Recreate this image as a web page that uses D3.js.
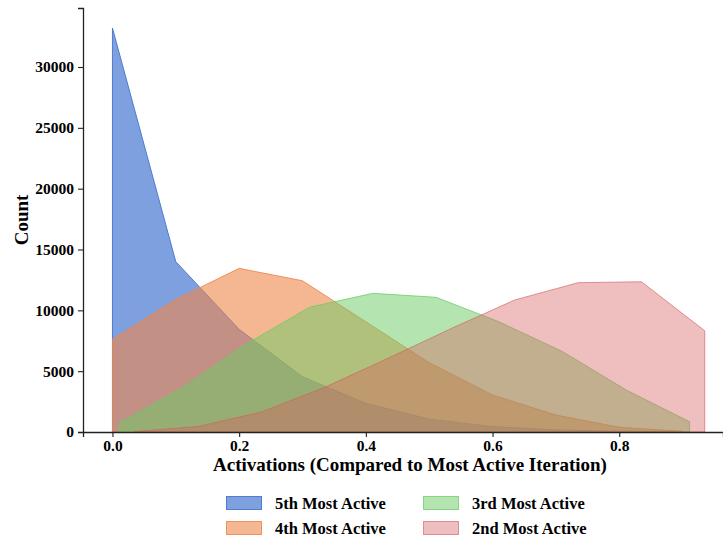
<!DOCTYPE html>
<html>
<head>
<meta charset="utf-8">
<script src="https://cdn.jsdelivr.net/npm/d3@7"></script>
<style>
  html, body { margin: 0; padding: 0; background: #fff; }
  svg { display: block; font-family: "Liberation Serif", "Times New Roman", serif; font-weight: bold; }
</style>
</head>
<body>
<svg id="chart" width="723" height="539"></svg>
<script>
// ---- data ----
const seriesNames = ["5th Most Active", "4th Most Active", "3rd Most Active", "2nd Most Active"];
const seriesColors = ["#4878d0", "#ee854a", "#6acc64", "#d65f5f"];
const seriesAlpha = [0.7, 0.6, 0.5, 0.4];

const x5th = [0.0, 0.1, 0.2, 0.3, 0.4, 0.5, 0.6, 0.7, 0.8, 0.9];
const y5th = [33200, 14000, 8440, 4540, 2360, 1060, 440, 170, 70, 20];

const x4th = [0.0, 0.1, 0.2, 0.3, 0.4, 0.5, 0.6, 0.7, 0.8, 0.9];
const y4th = [7620, 10900, 13450, 12430, 9060, 5700, 3040, 1400, 390, 60];

const x3rd = [0.011, 0.111, 0.211, 0.311, 0.411, 0.511, 0.611, 0.711, 0.811, 0.911];
const y3rd = [760, 3650, 7230, 10250, 11400, 11070, 9040, 6600, 3450, 850];

const x2nd = [0.035, 0.135, 0.235, 0.335, 0.435, 0.535, 0.635, 0.735, 0.835, 0.935];
const y2nd = [40, 450, 1640, 3670, 6060, 8510, 10850, 12270, 12350, 8320];

const xTicks = [0.0, 0.2, 0.4, 0.6, 0.8];
const yTicks = [0, 5000, 10000, 15000, 20000, 25000, 30000];

const xLabel = "Activations (Compared to Most Active Iteration)";
const yLabel = "Count";

// ---- layout ----
const svg = d3.select("#chart");
const mLeft = 83, mRight = 723, mTop = 8, mBottom = 432;

const x = d3.scaleLinear().domain([-0.0465, 0.9638]).range([mLeft, mRight]);
const y = d3.scaleLinear().domain([0, 34850]).range([mBottom, mTop]);

const series = [
  {xs: x5th, ys: y5th},
  {xs: x4th, ys: y4th},
  {xs: x3rd, ys: y3rd},
  {xs: x2nd, ys: y2nd}
];

const area = d3.area()
  .x(d => x(d[0]))
  .y0(y(0))
  .y1(d => y(d[1]));

series.forEach((s, i) => {
  const pts = s.xs.map((v, j) => [v, s.ys[j]]);
  svg.append("path")
    .attr("d", area(pts))
    .attr("fill", seriesColors[i])
    .attr("fill-opacity", seriesAlpha[i])
    .attr("stroke", seriesColors[i])
    .attr("stroke-opacity", Math.min(1, seriesAlpha[i] + 0.25))
    .attr("stroke-width", 1)
    .attr("stroke-linejoin", "miter");
});

// ---- axes ----
const axisFont = "Liberation Serif, Times New Roman, serif";
const xAxis = d3.axisBottom(x).tickValues(xTicks).tickFormat(d3.format(".1f")).tickSizeOuter(0).tickSize(5).tickPadding(3);
const gx = svg.append("g").attr("transform", `translate(0,${mBottom})`).call(xAxis)
  .attr("font-size", 15.5).attr("font-family", axisFont).attr("font-weight", "bold");
gx.select(".domain").attr("stroke", "#222").attr("stroke-width", 1.3);
gx.selectAll(".tick line").attr("stroke", "#222").attr("stroke-width", 1.1);
gx.selectAll(".tick text").attr("fill", "#000").attr("font-size", 15.5);

const yAxis = d3.axisLeft(y).tickValues(yTicks).tickFormat(d3.format("d")).tickSizeOuter(0).tickSize(5).tickPadding(4);
const gy = svg.append("g").attr("transform", `translate(${mLeft},0)`).call(yAxis)
  .attr("font-size", 15.5).attr("font-family", axisFont).attr("font-weight", "bold");
gy.select(".domain").attr("stroke", "#222").attr("stroke-width", 1.3);
gy.selectAll(".tick line").attr("stroke", "#222").attr("stroke-width", 1.1);
gy.selectAll(".tick text").attr("fill", "#000").attr("font-size", 15.5);

// axis labels
svg.append("text")
  .attr("x", 410).attr("y", 471)
  .attr("text-anchor", "middle")
  .attr("font-size", 19)
  .text(xLabel);

svg.append("text")
  .attr("transform", "translate(28,220) rotate(-90)")
  .attr("text-anchor", "middle")
  .attr("font-size", 19)
  .text(yLabel);

// ---- legend (2 columns, column-major) ----
const legendCols = [226, 423];
const legendRows = [496, 521];
seriesNames.forEach((name, i) => {
  const col = Math.floor(i / 2), row = i % 2;
  const g = svg.append("g").attr("transform", `translate(${legendCols[col]},${legendRows[row]})`);
  g.append("rect")
    .attr("x", 0.5).attr("y", 0.5).attr("width", 35).attr("height", 13)
    .attr("fill", seriesColors[i]).attr("fill-opacity", seriesAlpha[i])
    .attr("stroke", seriesColors[i]).attr("stroke-opacity", Math.min(1, seriesAlpha[i] + 0.25)).attr("stroke-width", 1);
  g.append("text")
    .attr("x", 49).attr("y", 12.5)
    .attr("font-size", 16.5)
    .text(name);
});
</script>
</body>
</html>
